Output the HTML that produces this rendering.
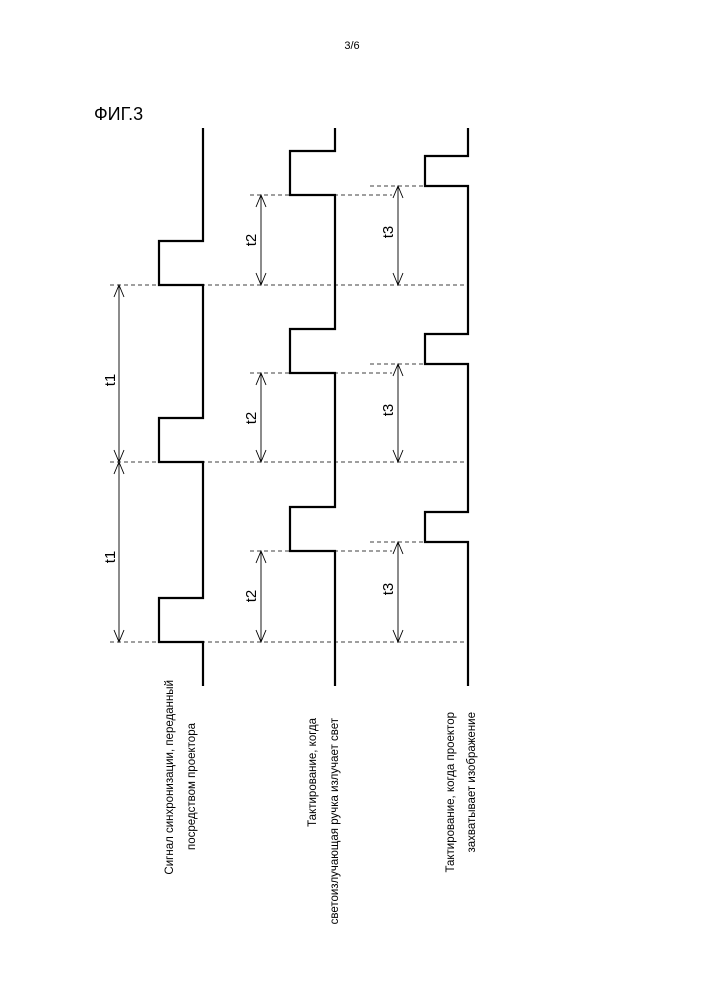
<!DOCTYPE html>
<html><head><meta charset="utf-8"><style>body{margin:0;background:#fff}</style></head>
<body>
<svg width="704" height="1000" xmlns="http://www.w3.org/2000/svg" font-family="Liberation Sans, sans-serif">
<rect width="704" height="1000" fill="#fff"/>
<text x="352" y="49" font-size="11" text-anchor="middle">3/6</text>
<text x="94" y="120" font-size="18">ФИГ.3</text>
<g fill="none" stroke="#000" stroke-width="2.2">
<polyline points="203,128 203,241 159,241 159,285 203,285 203,418 159,418 159,462 203,462 203,598 159,598 159,642 203,642 203,686"/>
<polyline points="335,128 335,151 290,151 290,195 335,195 335,329 290,329 290,373 335,373 335,507 290,507 290,551 335,551 335,686"/>
<polyline points="468,128 468,156 425,156 425,186 468,186 468,334 425,334 425,364 468,364 468,512 425,512 425,542 468,542 468,686"/>
</g>
<g stroke="#000" stroke-width="0.8" stroke-dasharray="4,3">
<line x1="110" y1="285" x2="468" y2="285"/>
<line x1="110" y1="462" x2="468" y2="462"/>
<line x1="110" y1="642" x2="468" y2="642"/>
<line x1="250" y1="195" x2="392" y2="195"/>
<line x1="250" y1="373" x2="392" y2="373"/>
<line x1="250" y1="551" x2="392" y2="551"/>
<line x1="370" y1="186" x2="425" y2="186"/>
<line x1="370" y1="364" x2="425" y2="364"/>
<line x1="370" y1="542" x2="425" y2="542"/>
</g>
<g stroke="#000" stroke-width="0.9" fill="none">
<line x1="119" y1="285" x2="119" y2="462"/>
<polyline points="114,297 119,285 124,297"/><polyline points="114,450 119,462 124,450"/>
<line x1="119" y1="462" x2="119" y2="642"/>
<polyline points="114,474 119,462 124,474"/><polyline points="114,630 119,642 124,630"/>
<line x1="261" y1="195" x2="261" y2="285"/>
<polyline points="256,207 261,195 266,207"/><polyline points="256,273 261,285 266,273"/>
<line x1="261" y1="373" x2="261" y2="462"/>
<polyline points="256,385 261,373 266,385"/><polyline points="256,450 261,462 266,450"/>
<line x1="261" y1="551" x2="261" y2="642"/>
<polyline points="256,563 261,551 266,563"/><polyline points="256,630 261,642 266,630"/>
<line x1="398" y1="186" x2="398" y2="285"/>
<polyline points="393,198 398,186 403,198"/><polyline points="393,273 398,285 403,273"/>
<line x1="398" y1="364" x2="398" y2="462"/>
<polyline points="393,376 398,364 403,376"/><polyline points="393,450 398,462 403,450"/>
<line x1="398" y1="542" x2="398" y2="642"/>
<polyline points="393,554 398,542 403,554"/><polyline points="393,630 398,642 403,630"/>
</g>
<g font-size="15" text-anchor="middle">
<text transform="translate(115,380) rotate(-90)">t1</text>
<text transform="translate(115,557) rotate(-90)">t1</text>
<text transform="translate(256,240) rotate(-90)">t2</text>
<text transform="translate(256,418) rotate(-90)">t2</text>
<text transform="translate(256,596) rotate(-90)">t2</text>
<text transform="translate(393,232) rotate(-90)">t3</text>
<text transform="translate(393,410) rotate(-90)">t3</text>
<text transform="translate(393,589) rotate(-90)">t3</text>
</g>
<g font-size="11.5" text-anchor="end">
<text transform="translate(173,680) rotate(-90)">Сигнал синхронизации, переданный</text>
<text transform="translate(195,723) rotate(-90)">посредством проектора</text>
<text transform="translate(316,718) rotate(-90)">Тактирование, когда</text>
<text transform="translate(338,718) rotate(-90)">светоизлучающая ручка излучает свет</text>
<text transform="translate(454,712) rotate(-90)">Тактирование, когда проектор</text>
<text transform="translate(475,712) rotate(-90)">захватывает изображение</text>
</g>
</svg>
</body></html>
